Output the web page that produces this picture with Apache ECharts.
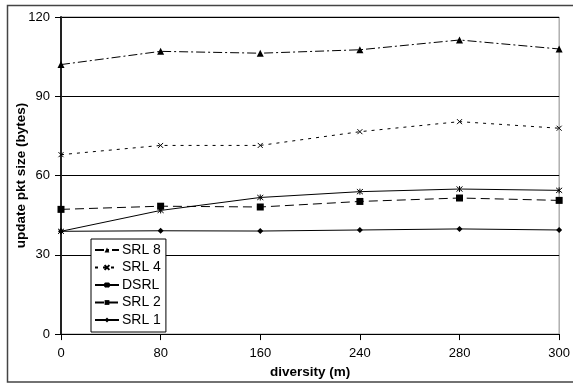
<!DOCTYPE html>
<html><head><meta charset="utf-8">
<script src="https://cdn.jsdelivr.net/npm/echarts@6/dist/echarts.min.js"></script>
<style>html,body{margin:0;padding:0;background:#fff}#c{width:573px;height:384px}</style>
</head><body><div id="c"></div>
<script>
const categories = ['0','80','160','240','280','300'];
const srl8 = [102, 107, 106.3, 107.6, 111.3, 107.9];
const srl4 = [67.9, 71.4, 71.4, 76.6, 80.4, 77.9];
const dsrl = [38.9, 46.8, 51.7, 53.9, 54.9, 54.4];
const srl2 = [47.2, 48.4, 48.1, 50.2, 51.5, 50.6];
const srl1 = [38.9, 39.1, 39.0, 39.4, 39.8, 39.4];
const yTicks = [0, 30, 60, 90, 120];

const FONT = "'Liberation Sans', Arial, sans-serif";
const X_PATH = 'path://M0,0L10,10M10,0L0,10';
const AST_PATH = 'path://M0,0L10,10M10,0L0,10M5,-1L5,11';
const chart = echarts.init(document.getElementById('c'), null, {renderer:'canvas'});
function mk(name, data, lineType, symbol, size, stroke){
  return {
    name, type:'line', data, symbol, symbolSize:size,
    lineStyle:{color:'#000', width:1, type:lineType},
    itemStyle: stroke ? {color:'#000', borderColor:'#000', borderWidth:1} : {color:'#000', borderWidth:0},
    emphasis:{disabled:true}, animation:false, z: 3
  };
}
chart.setOption({
  animation:false,
  textStyle:{fontFamily:FONT},
  graphic:[{type:'rect', shape:{x:7.5,y:5.5,width:580,height:376.5}, style:{fill:null, stroke:'#444', lineWidth:1.5}, silent:true, z:-1}],
  grid:{left:61, right:13, top:17, bottom:47, show:true, borderColor:'#888', borderWidth:1},
  legend:{
    orient:'vertical', left:91, top:239,
    data:['SRL 8','SRL 4','DSRL','SRL 2','SRL 1'],
    backgroundColor:'#fff', borderColor:'#000', borderWidth:1,
    padding:[3,5,4,3], itemGap:1.5, itemWidth:24, itemHeight:6,
    textStyle:{fontFamily:FONT, fontSize:14, color:'#000', lineHeight:16, padding:[0,0,0,-2]}
  },
  xAxis:{
    type:'category', data:categories, boundaryGap:false,
    name:'diversity (m)', nameLocation:'middle', nameGap:30,
    nameTextStyle:{fontFamily:FONT, fontSize:13.5, fontWeight:'bold', color:'#000'},
    axisLine:{lineStyle:{color:'#000', width:1}},
    axisTick:{show:true, length:6, lineStyle:{color:'#000'}, alignWithLabel:true},
    axisLabel:{fontFamily:FONT, fontSize:13, color:'#000', margin:13},
    splitLine:{show:false}
  },
  yAxis:{
    type:'value', min:yTicks[0], max:yTicks[yTicks.length-1], interval:30,
    name:'update pkt size (bytes)', nameLocation:'middle', nameGap:33, nameMoveOverlap:false,
    nameTextStyle:{fontFamily:FONT, fontSize:13.5, fontWeight:'bold', color:'#000'},
    axisLine:{show:true, lineStyle:{color:'#222', width:2}},
    axisTick:{show:true, length:6, inside:false, lineStyle:{color:'#000'}},
    axisLabel:{fontFamily:FONT, fontSize:13, color:'#000', margin:11},
    splitLine:{show:true, lineStyle:{color:'#000', width:1}}
  },
  series:[
    mk('SRL 8', srl8, [9,3,2,3], 'triangle', 7, false),
    mk('SRL 4', srl4, [3,5], X_PATH, 5, true),
    mk('DSRL', dsrl, 'solid', AST_PATH, 6, true),
    mk('SRL 2', srl2, [9,5], 'rect', 7, false),
    mk('SRL 1', srl1, 'solid', 'diamond', 6, false)
  ]
});
</script></body></html>
